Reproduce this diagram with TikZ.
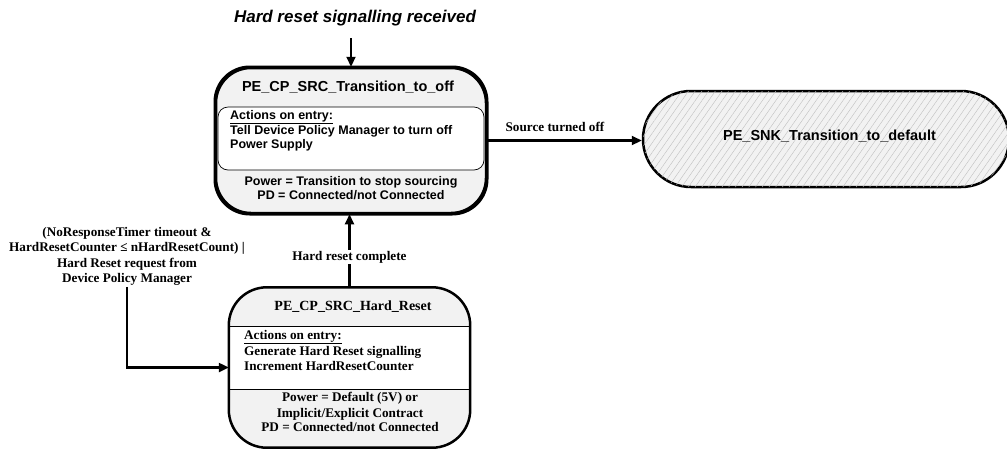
\documentclass[tikz,border=0pt]{standalone}
\usepackage{fontspec}
\setmainfont{Liberation Serif}
\newfontfamily\arial{Liberation Sans}
\usetikzlibrary{arrows.meta,patterns.meta}
\definecolor{boxgray}{RGB}{242,242,242}
\begin{document}
\begin{tikzpicture}[x=1pt,y=-1pt,
  conn/.style={line width=2.2pt,-{Triangle[length=10pt,width=9pt]}},
  outline/.style={line width=2.5pt},
  thinline/.style={line width=0.7pt},
  sanstitle/.style={font=\arial\bfseries\fontsize{14.5}{16}\selectfont,inner sep=0pt},
  sansbody/.style={font=\arial\bfseries\fontsize{12.5}{14}\selectfont,inner sep=0pt},
  serifbody/.style={font=\bfseries\fontsize{13.2}{15.5}\selectfont,inner sep=0pt},
  seriftitle/.style={font=\bfseries\fontsize{14}{16}\selectfont,inner sep=0pt}
]
\useasboundingbox (0,0) rectangle (1007,451);

% ---------- top state ----------
\node[draw,outline,fill=boxgray,rounded corners=35pt,minimum width=270pt,minimum height=145pt,inner sep=0pt] (top) at (351,140.5) {};
\draw[thinline,fill=white,rounded corners=10pt] (218,107) rectangle (484,170);
\draw[outline,rounded corners=35pt] (top.north west) rectangle (top.south east);
\node[sanstitle] (topT) at (348,87) {PE\_CP\_SRC\_Transition\_to\_off};
\node[sansbody,anchor=mid west] (topA1) at (230,117) {\underline{Actions on entry:}};
\node[sansbody,anchor=mid west] (topA2) at (230,132) {Tell Device Policy Manager to turn off};
\node[sansbody,anchor=mid west] (topA3) at (230,146.5) {Power Supply};
\node[sansbody,anchor=mid] (topP1) at (351,183) {Power = Transition to stop sourcing};
\node[sansbody,anchor=mid] (topP2) at (351,197) {PD = Connected/not Connected};

% ---------- right state ----------
\node[draw,outline,fill=boxgray,rounded corners=48pt,minimum width=366pt,minimum height=96pt,inner sep=0pt,
      postaction={pattern={Lines[angle=55,distance=5.5pt,line width=0.4pt]},pattern color=black!25}] (snk) at (826,139) {};
\node[sanstitle] (snkT) at (829.5,136) {PE\_SNK\_Transition\_to\_default};

% ---------- bottom state ----------
\node[fill=boxgray,rounded corners=38pt,minimum width=241pt,minimum height=160pt,inner sep=0pt] (bot) at (349.5,367.5) {};
\begin{scope}
  \clip[rounded corners=38pt] (bot.north west) rectangle (bot.south east);
  \fill[white] (229,326) rectangle (470,389);
  \draw[thinline] (229,326) -- (470,326);
  \draw[thinline] (229,389) -- (470,389);
\end{scope}
\draw[outline,rounded corners=38pt] (bot.north west) rectangle (bot.south east);
\node[seriftitle] (botT) at (353,307) {PE\_CP\_SRC\_Hard\_Reset};
\node[serifbody,anchor=mid west] (botA1) at (244,337) {\underline{Actions on entry:}};
\node[serifbody,anchor=mid west] (botA2) at (244,353) {Generate Hard Reset signalling};
\node[serifbody,anchor=mid west] (botA3) at (244,368) {Increment HardResetCounter};
\node[serifbody,anchor=mid] (botP1) at (350,399) {Power = Default (5V) or};
\node[serifbody,anchor=mid] (botP2) at (350,415) {Implicit/Explicit Contract};
\node[serifbody,anchor=mid] (botP3) at (350,429) {PD = Connected/not Connected};

% ---------- incoming title ----------
\node[font=\arial\bfseries\itshape\fontsize{17}{19}\selectfont,inner sep=0pt] (hr) at (355,18) {Hard reset signalling received};
\coordinate (hrin) at (351,38);
\draw[conn] (hrin) -- (top.north);

% ---------- transitions ----------
\draw[conn] (top.east) -- (top.east -| snk.west);
\node[serifbody] (lblSrc) at (555,127) {Source turned off};

\draw[conn] (bot.north) -- (bot.north |- top.south);
\node[serifbody,fill=white,inner sep=1pt] (lblHr) at (349.5,257) {Hard reset complete};

\node[serifbody,align=center,inner sep=1pt] (lblL) at (127,256.5)
  {(NoResponseTimer timeout \&\\HardResetCounter ≤ nHardResetCount) |\\Hard Reset request from\\Device Policy Manager};
\draw[conn] (lblL.south) |- (bot.west);
\end{tikzpicture}
\end{document}
